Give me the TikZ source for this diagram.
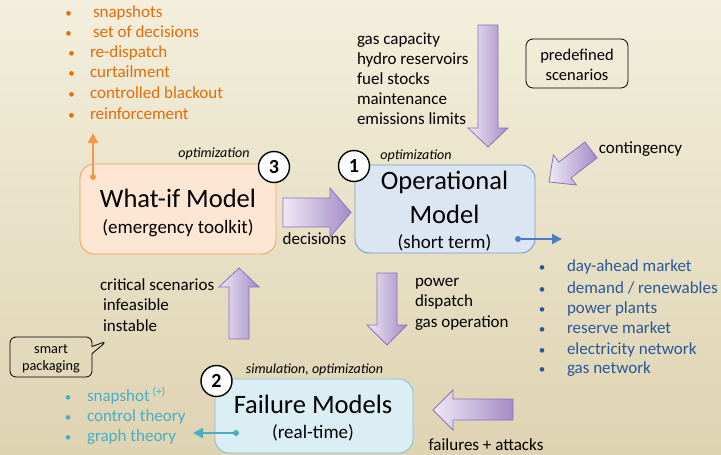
\documentclass[tikz,border=0pt]{standalone}
\usepackage{fontspec}
\setmainfont{Carlito}
\usetikzlibrary{shapes.callouts,arrows.meta}
\definecolor{bgtop}{HTML}{F3EFDC}
\definecolor{bgbot}{HTML}{DED3B2}
\definecolor{otxt}{HTML}{E46C0A}
\definecolor{btxt}{HTML}{2B5797}
\definecolor{ttxt}{HTML}{4BACC6}
\definecolor{ofill}{HTML}{FDE6D4}
\definecolor{oline}{HTML}{F6A05C}
\definecolor{bfill}{HTML}{DCE6F2}
\definecolor{bline}{HTML}{6F9BD1}
\definecolor{tfill}{HTML}{DAEEF3}
\definecolor{tline}{HTML}{7DC2D6}
\definecolor{plight}{HTML}{EEE8F4}
\definecolor{pdark}{HTML}{A48BC7}
\definecolor{pline}{HTML}{8C71B7}
\definecolor{oarrow}{HTML}{F79646}
\definecolor{barrow}{HTML}{4A7EC2}
\definecolor{tarrow}{HTML}{4BACC6}
\tikzset{
  modelbox/.style={rounded corners=14pt, line width=0.9pt},
  bigtxt/.style={font=\fontsize{26.5}{30}\selectfont, anchor=base},
  subtxt/.style={font=\fontsize{19}{22}\selectfont, anchor=base},
  itl/.style={font=\fontsize{14}{16}\selectfont\itshape, anchor=base},
  lst/.style={font=\fontsize{17}{20}\selectfont, anchor=base west},
  bul/.style={font=\fontsize{13}{20}\selectfont, anchor=base},
  numcircle/.style={circle, draw=black, fill=white, line width=1.4pt, minimum size=31pt, font=\fontsize{20}{20}\selectfont\bfseries},
  blockarrow/.style={left color=plight, right color=pdark, draw=pline, line width=0.8pt},
  dotmark/.style={circle, minimum size=6pt},
}
\begin{document}
\begin{tikzpicture}[x=1pt,y=-1pt, every node/.style={inner sep=0pt, outer sep=0pt}]
\shade[top color=bgtop,bottom color=bgbot] (0,0) rectangle (721,455);
\useasboundingbox (0,0) rectangle (721,455);

% model boxes
\node[modelbox, fill=ofill, draw=oline, minimum width=196pt, minimum height=90pt] (whatif) at (178,209) {};
\node[modelbox, fill=bfill, draw=bline, minimum width=180pt, minimum height=88pt] (oper) at (445,209) {};
\node[modelbox, fill=tfill, draw=tline, minimum width=198pt, minimum height=74pt] (fail) at (314,416) {};

\node[bigtxt] (whatifA) at (178,207) {What-if Model};
\node[subtxt] (whatifB) at (178,233) {(emergency toolkit)};
\node[bigtxt] (operA) at (444.5,189) {Operational};
\node[bigtxt] (operB) at (444.5,223) {Model};
\node[subtxt] (operC) at (444.5,248) {(short term)};
\node[bigtxt] (failA) at (313,413) {Failure Models};
\node[subtxt] (failB) at (313,438) {(real-time)};

\node[itl] (opt3) at (214,157) {optimization};
\node[itl] (opt1) at (416,159) {optimization};
\node[itl] (simopt) at (314.5,373) {simulation, optimization};

\node[numcircle] (n3) at (274,167) {3};
\node[numcircle] (n1) at (354,166) {1};
\node[numcircle] (n2) at (216.5,381) {2};

% block arrows
\draw[blockarrow] (478,25)--(498,25)--(498,128)--(508,128)--(488,147)--(468,128)--(478,128)--cycle;
\draw[blockarrow] (283,198)--(330,198)--(330,188)--(351,212.5)--(330,237)--(330,227)--(283,227)--cycle;
\draw[blockarrow] (597.1,157.9)--(570.9,177.9)--(576.4,185.0)--(549,182)--(553.4,154.8)--(558.8,162.0)--(584.9,142.1)--cycle;
\draw[blockarrow] (229,339)--(229,287)--(219,287)--(239,268)--(259,287)--(249,287)--(249,339)--cycle;
\draw[blockarrow] (377,273)--(397,273)--(397,325)--(407,325)--(387,345)--(367,325)--(377,325)--cycle;
\draw[blockarrow] (513,399)--(453,399)--(453,390)--(433,410)--(453,430)--(453,420)--(513,420)--cycle;

% small connectors
\node[dotmark, fill=oarrow] (od) at (93,177) {};
\coordinate (ot) at (93,133);
\draw[oarrow, line width=2pt, -{Triangle[length=10pt,width=10pt]}] (od) -- (ot);
\node[dotmark, fill=barrow] (bd) at (518,239) {};
\coordinate (bt) at (562,239);
\draw[barrow, line width=2pt, -{Triangle[length=10pt,width=10pt]}] (bd) -- (bt);
\node[dotmark, fill=tarrow] (td) at (236,433) {};
\coordinate (tt) at (193,433);
\draw[tarrow, line width=2pt, -{Triangle[length=10pt,width=10pt]}] (td) -- (tt);

% orange list
\foreach \bx/\tx/\yy/\t [count=\i] in {68.5/93/17/snapshots, 68.5/93/37/set of decisions, 71.5/90/57/re-dispatch, 71.5/90/77/curtailment, 71.5/90/98/controlled blackout, 71.5/90/119/reinforcement}{
  \node[bul, text=otxt] (ob\i) at (\bx,\yy) {•};
  \node[lst, text=otxt] (ol\i) at (\tx,\yy) {\t};
}

% gas list
\foreach \yy/\t [count=\i] in {44/gas capacity, 64/hydro reservoirs, 84/fuel stocks, 104/maintenance, 124/emissions limits}{
  \node[lst] (gl\i) at (357,\yy) {\t};
}

% blue list
\foreach \yy/\t [count=\i] in {271/{day-ahead market}, 293/{demand / renewables}, 313/{power plants}, 333/{reserve market}, 354/{electricity network}, 373/{gas network}}{
  \node[bul, text=btxt] (bb\i) at (542,\yy) {•};
  \node[lst, text=btxt] (bl\i) at (567,\yy) {\t};
}

% power list
\foreach \yy/\t [count=\i] in {286/power, 306/dispatch, 327/gas operation}{
  \node[lst] (pl\i) at (415,\yy) {\t};
}

% critical list
\node[lst] (cl1) at (100,290) {critical scenarios};
\node[lst] (cl2) at (103,310) {infeasible};
\node[lst] (cl3) at (103,331) {instable};

% teal list
\node[bul, text=ttxt] (tb1) at (68,401) {•};
\node[lst, text=ttxt] (tl1) at (87,401) {snapshot\,\raisebox{6pt}{\fontsize{11.5}{12}\selectfont(+)}};
\node[bul, text=ttxt] (tb2) at (68,421) {•};
\node[lst, text=ttxt] (tl2) at (87,421) {control theory};
\node[bul, text=ttxt] (tb3) at (68,441) {•};
\node[lst, text=ttxt] (tl3) at (87,441) {graph theory};

% other labels
\node[lst, anchor=base] (dec) at (314.5,244) {decisions};
\node[lst, anchor=base] (cont) at (640.5,153) {contingency};
\node[lst, anchor=base] (fa) at (486,450) {failures + attacks};

% predefined scenarios box
\node[draw=black, rounded corners=7pt, line width=0.8pt, minimum width=102pt, minimum height=49pt] (pre) at (577,63.5) {};
\node[font=\fontsize{16.5}{20}\selectfont, anchor=base] (preA) at (577,60) {predefined};
\node[font=\fontsize{16.5}{20}\selectfont, anchor=base] (preB) at (577,80) {scenarios};

% smart packaging callout
\coordinate (ptr) at (107,341);
\node[rectangle callout, draw=black, rounded corners=6pt, line width=0.8pt, minimum width=82pt, minimum height=40pt, callout absolute pointer={(ptr)}] (smart) at (51,357) {};
\node[font=\fontsize{14.3}{17}\selectfont, anchor=base] (smA) at (51,353) {smart};
\node[font=\fontsize{14.3}{17}\selectfont, anchor=base] (smB) at (51,370) {packaging};
\end{tikzpicture}
\end{document}
